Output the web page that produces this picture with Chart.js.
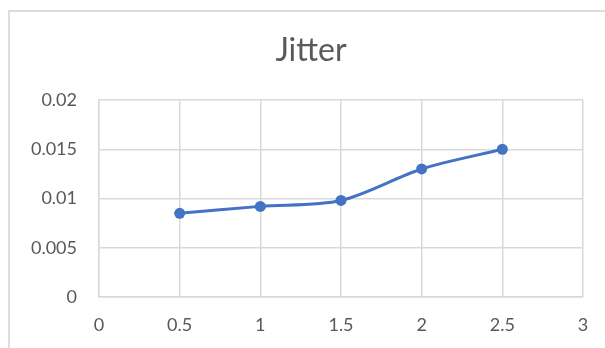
<!DOCTYPE html>
<html>
<head>
<meta charset="utf-8">
<script src="https://cdn.jsdelivr.net/npm/chart.js@4/dist/chart.umd.min.js"></script>
<style>
  html, body { margin: 0; padding: 0; background: #ffffff; overflow: hidden; width: 605px; height: 348px; }
  #frame { position: absolute; left: 8px; top: 10px; width: 700px; height: 400px; border: 2px solid #dedede; box-sizing: border-box; }
  #c { position: absolute; left: 0; top: 0; }
</style>
</head>
<body>
<div id="frame"></div>
<canvas id="c" width="622" height="348"></canvas>
<script>
const chartTitle = "Jitter";
const xValues = [0.5, 1, 1.5, 2, 2.5];
const jitterValues = [0.0085, 0.0092, 0.0098, 0.013, 0.015];
const xTicks = [0, 0.5, 1, 1.5, 2, 2.5, 3];
const yTicks = [0, 0.005, 0.01, 0.015, 0.02];

const points = xValues.map((x, i) => ({ x: x, y: jitterValues[i] }));
const textColor = "#595959";
const gridColor = "#d9d9d9";
const fontFamily = "Lato, 'Open Sans', sans-serif";

// The chart frame is wider than the window; center the title over the whole frame.
const titleCenterPlugin = {
  id: "titleCenter",
  afterLayout(chart) {
    if (chart.titleBlock) {
      chart.titleBlock.left = 0;
      chart.titleBlock.right = chart.width;
    }
  }
};

new Chart(document.getElementById("c"), {
  type: "scatter",
  data: {
    datasets: [{
      label: chartTitle,
      data: points,
      showLine: true,
      borderColor: "#4472C4",
      backgroundColor: "#4472C4",
      borderWidth: 3,
      pointRadius: 5.5,
      pointHoverRadius: 5.5,
      pointBorderWidth: 0,
      tension: 0.3
    }]
  },
  plugins: [titleCenterPlugin],
  options: {
    responsive: false,
    devicePixelRatio: 1,
    animation: false,
    layout: { padding: { left: 0, right: 39, top: 0, bottom: 0 } },
    plugins: {
      legend: { display: false },
      tooltip: { enabled: false },
      title: {
        display: true,
        text: chartTitle,
        color: textColor,
        font: { family: fontFamily, size: 32, weight: "normal", lineHeight: 1.2 },
        padding: { top: 31, bottom: 30.6 }
      }
    },
    scales: {
      x: {
        type: "linear",
        min: xTicks[0],
        max: xTicks[xTicks.length - 1],
        afterBuildTicks: (s) => { s.ticks = xTicks.map(v => ({ value: v })); },
        afterFit: (s) => { s.height = 51; },
        grid: { color: gridColor, lineWidth: 1.5, drawTicks: false },
        border: { color: gridColor, width: 1.5 },
        ticks: { color: textColor, padding: 17, font: { family: fontFamily, size: 18 },
                 callback: (v) => String(v) }
      },
      y: {
        type: "linear",
        min: yTicks[0],
        max: yTicks[yTicks.length - 1],
        afterBuildTicks: (s) => { s.ticks = yTicks.map(v => ({ value: v })); },
        afterFit: (s) => { s.width = 99; },
        grid: { color: gridColor, lineWidth: 1.5, drawTicks: false },
        border: { color: gridColor, width: 1.5 },
        ticks: { color: textColor, padding: 22, font: { family: fontFamily, size: 18 },
                 callback: (v) => String(v) }
      }
    }
  }
});
</script>
</body>
</html>
